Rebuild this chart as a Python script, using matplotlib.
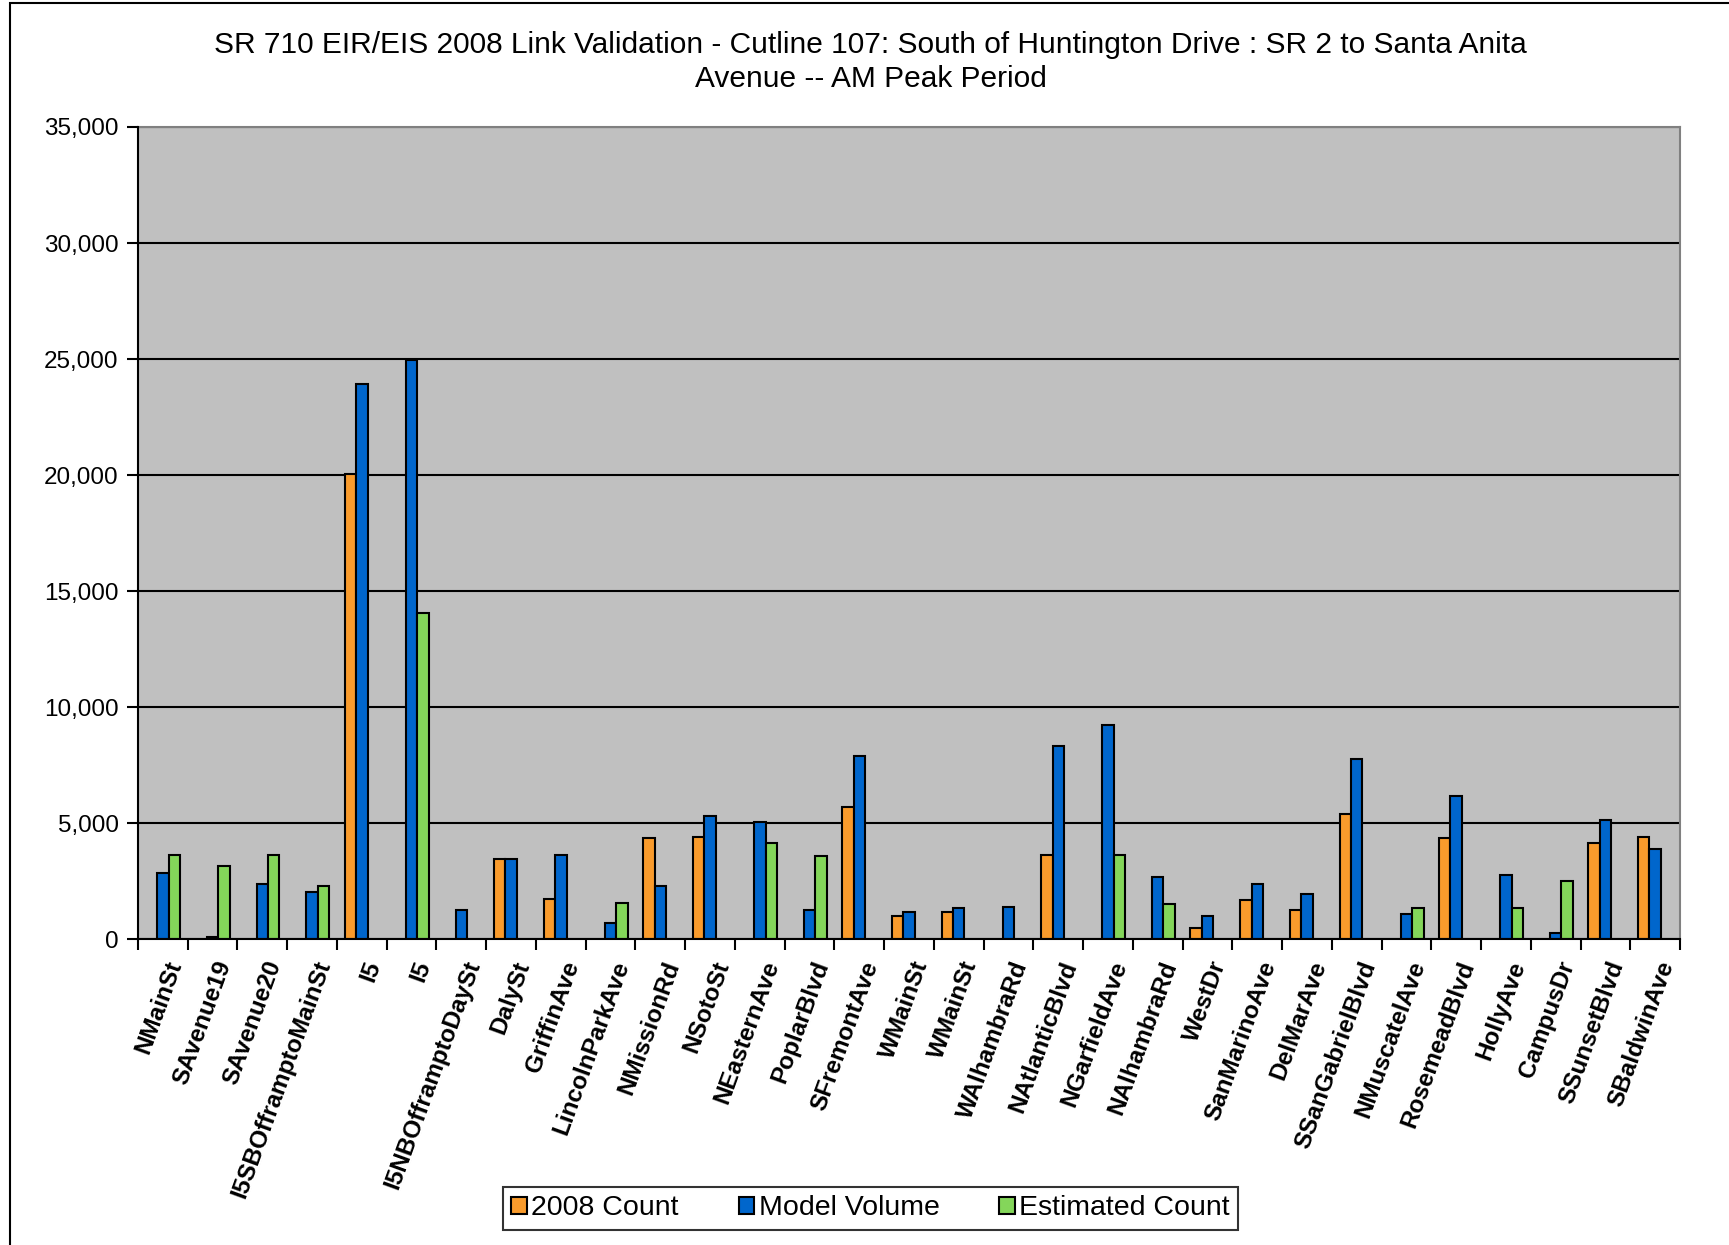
import numpy as np
import matplotlib
matplotlib.use("Agg")
import matplotlib.pyplot as plt
from matplotlib.patches import Rectangle
from matplotlib.ticker import FuncFormatter, MultipleLocator

plt.rcParams['font.family'] = ['Liberation Sans', 'DejaVu Sans']

nan = np.nan
categories = [
    "NMainSt", "SAvenue19", "SAvenue20", "I5SBOfframptoMainSt", "I5", "I5",
    "I5NBOfframptoDaySt", "DalySt", "GriffinAve", "LincolnParkAve", "NMissionRd",
    "NSotoSt", "NEasternAve", "PoplarBlvd", "SFremontAve", "WMainSt", "WMainSt",
    "WAlhambraRd", "NAtlanticBlvd", "NGarfieldAve", "NAlhambraRd", "WestDr",
    "SanMarinoAve", "DelMarAve", "SSanGabrielBlvd", "NMuscatelAve", "RosemeadBlvd",
    "HollyAve", "CampusDr", "SSunsetBlvd", "SBaldwinAve",
]
count_2008 = [nan, nan, nan, nan, 20050, nan, nan, 3450, 1730, nan, 4350,
              4420, nan, nan, 5700, 1010, 1180, nan, 3650, nan, nan, 500,
              1710, 1270, 5400, nan, 4350, nan, nan, 4160, 4420]
model_volume = [2880, 100, 2390, 2050, 23950, 24970, 1270, 3450, 3650, 700, 2300,
                5320, 5070, 1270, 7900, 1180, 1340, 1420, 8320, 9240, 2710, 1010,
                2390, 1970, 7770, 1110, 6190, 2790, 260, 5150, 3910]
estimated_count = [3650, 3150, 3650, 2300, nan, 14050, nan, nan, nan, 1550, nan,
                   nan, 4160, 3610, nan, nan, nan, nan, nan, 3650, 1510, nan,
                   nan, nan, nan, 1340, nan, 1340, 2530, nan, nan]

series = [
    ("2008 Count", count_2008, "#F99B2C"),
    ("Model Volume", model_volume, "#0066CC"),
    ("Estimated Count", estimated_count, "#84D65A"),
]

title = ("SR 710 EIR/EIS 2008 Link Validation - Cutline 107: South of Huntington Drive : SR 2 to Santa Anita\n"
         "Avenue -- AM Peak Period")

fig = plt.figure(figsize=(17.29, 12.45), dpi=100)
ax = fig.add_axes([0.0798, 0.2454, 0.8919, 0.6526])
ax.set_facecolor("#C0C0C0")

x = np.arange(len(categories))
bw = 0.23
for i, (name, vals, col) in enumerate(series):
    ax.bar(x + (i - 1) * bw, vals, bw, color=col, edgecolor="black",
           linewidth=1.5, label=name, zorder=3)

ax.set_xlim(-0.5, len(categories) - 0.5)
ax.set_ylim(0, 35000)
ax.yaxis.set_major_locator(MultipleLocator(5000))
ax.yaxis.set_major_formatter(FuncFormatter(lambda v, p: f"{int(v):,}"))
ax.grid(axis="y", color="black", linewidth=1.5, zorder=1)
ax.set_axisbelow(True)

for s in ("top", "right"):
    ax.spines[s].set_color("#808080")
    ax.spines[s].set_linewidth(1.5)
for s in ("left", "bottom"):
    ax.spines[s].set_color("black")
    ax.spines[s].set_linewidth(1.5)
    ax.spines[s].set_zorder(4)

# category boundary ticks on the x axis
ax.set_xticks(np.arange(len(categories) + 1) - 0.5)
ax.set_xticklabels([])
ax.tick_params(axis="x", direction="out", length=8, width=1.5)
ax.tick_params(axis="y", direction="out", length=8, width=1.5,
               labelsize=17.5, pad=6)

for xi, lab in zip(x, categories):
    ax.annotate(lab, xy=(xi, 0), xycoords=("data", "axes fraction"),
                xytext=(9, -16), textcoords="offset points",
                rotation=70, rotation_mode="anchor", ha="right", va="center",
                fontsize=17.5, fontweight="bold")

fig.text(0.5035, 0.9505, title, ha="center", va="center", fontsize=21.5,
         linespacing=1.27)

leg = fig.legend(loc="center", bbox_to_anchor=(0.5035, 0.0295), ncol=3,
                 frameon=True, fancybox=False, edgecolor="black",
                 fontsize=20.5, handlelength=0.55, handleheight=0.55,
                 handletextpad=0.15, columnspacing=2.1, borderpad=0.3)
leg.get_frame().set_linewidth(1.5)

# outer chart border
fig.patches.append(Rectangle((10 / 1729, -0.02), 1.1, 1 - 3 / 1245 + 0.02,
                             transform=fig.transFigure, fill=False,
                             edgecolor="black", linewidth=1.5))

fig.savefig("out.png", dpi=100)
